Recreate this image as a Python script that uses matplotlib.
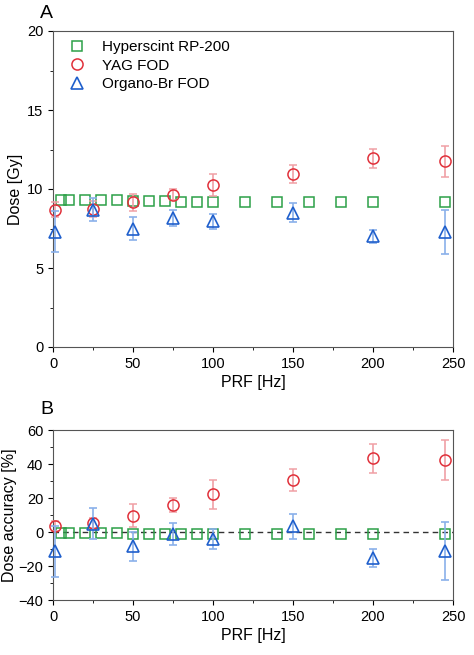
import matplotlib
matplotlib.use("Agg")
import matplotlib.pyplot as plt
from matplotlib.lines import Line2D
import numpy as np

plt.rcParams['font.family'] = ['Liberation Sans', 'DejaVu Sans']

sq_x = [5,10,20,30,40,50,60,70,80,90,100,120,140,160,180,200,245]
sq_dose = [9.3,9.3,9.3,9.3,9.3,9.25,9.25,9.25,9.2,9.2,9.2,9.2,9.2,9.2,9.2,9.2,9.2]
sq_acc = [-0.3,-0.5,-0.5,-0.6,-0.7,-0.9,-0.9,-0.9,-1.0,-1.0,-1.0,-1.1,-1.1,-1.2,-1.2,-1.3,-1.4]

pt_x = [1,25,50,75,100,150,200,245]
yag_dose = [8.7,8.75,9.15,9.65,10.25,10.95,11.95,11.75]
yag_dose_err = [0.5,0.5,0.55,0.35,0.7,0.55,0.6,1.0]
org_dose = [7.3,8.7,7.5,8.15,7.95,8.5,7.0,7.3]
org_dose_err = [1.3,0.75,0.7,0.5,0.45,0.6,0.4,1.4]

yag_acc = [3.7,5.3,9.6,15.9,22.1,30.8,43.5,42.4]
yag_acc_err = [3,3,6.7,4,8.5,6.5,8.5,12]
org_acc = [-11.4,4.9,-8.4,-1.0,-4.1,3.3,-15.3,-11.4]
org_acc_err = [15,9.3,8.5,6.5,6,7.5,5.5,17]

W, H = 474, 655
fig = plt.figure(figsize=(W/100, H/100), dpi=100)
ax1 = fig.add_axes([53/W, 1-347/H, 400/W, 316/H])
ax2 = fig.add_axes([53/W, 1-600/H, 400/W, 170/H])

g, r, b = '#2ca048', '#e0303a', '#1f5fcc'
ms = 7
def draw(ax, sy, ry, re, oy, oe):
    ax.plot(sq_x, sy, 's', mfc='none', mec=g, ms=ms, mew=1.1, clip_on=False, zorder=3)
    ax.errorbar(pt_x, ry, yerr=re, fmt='o', mfc='none', mec=r, ms=ms+1, mew=1.1, ecolor='#f0a0a5',
                capsize=3, elinewidth=1.2, clip_on=False, zorder=4)
    ax.errorbar(pt_x, oy, yerr=oe, fmt='^', mfc='none', mec=b, ms=ms+2, mew=1.2, ecolor='#8ab0ea',
                capsize=3, elinewidth=1.2, clip_on=False, zorder=5)
    ax.set_xlim(0, 250)
    ax.set_xticks([0,50,100,150,200,250])
    ax.set_xticks(np.arange(25,250,50), minor=True)
    ax.set_xlabel('PRF [Hz]', fontsize=11.5, labelpad=3)
    ax.tick_params(labelsize=10.5, direction='out')
    for s in ax.spines.values():
        s.set_color('#555555')

draw(ax1, sq_dose, yag_dose, yag_dose_err, org_dose, org_dose_err)
ax1.set_ylim(0, 20)
ax1.set_yticks([0,5,10,15,20])
ax1.set_yticks(np.arange(2.5,20,5), minor=True)
ax1.set_ylabel('Dose [Gy]', fontsize=11.5, labelpad=3)
handles = [Line2D([], [], ls='none', marker='s', mfc='none', mec=g, ms=ms, mew=1.1),
           Line2D([], [], ls='none', marker='o', mfc='none', mec=r, ms=ms+1, mew=1.1),
           Line2D([], [], ls='none', marker='^', mfc='none', mec=b, ms=ms+2, mew=1.2)]
ax1.legend(handles, ['Hyperscint RP-200', 'YAG FOD', 'Organo-Br FOD'], loc='upper left',
           frameon=False, fontsize=11, handletextpad=0.6, borderaxespad=0.2, labelspacing=0.3)

draw(ax2, sq_acc, yag_acc, yag_acc_err, org_acc, org_acc_err)
ax2.axhline(0, color='#333333', ls='--', lw=1, dashes=(4,3), zorder=1)
ax2.set_ylim(-40, 60)
ax2.set_yticks([-40,-20,0,20,40,60])
ax2.set_yticks(np.arange(-30,60,20), minor=True)
ax2.set_ylabel('Dose accuracy [%]', fontsize=11.5, labelpad=1)

fig.text(40/W, 1-14/H, 'A', fontsize=14, va='center')
fig.text(40/W, 1-410/H, 'B', fontsize=14, va='center')
fig.savefig('out.png', dpi=100)
